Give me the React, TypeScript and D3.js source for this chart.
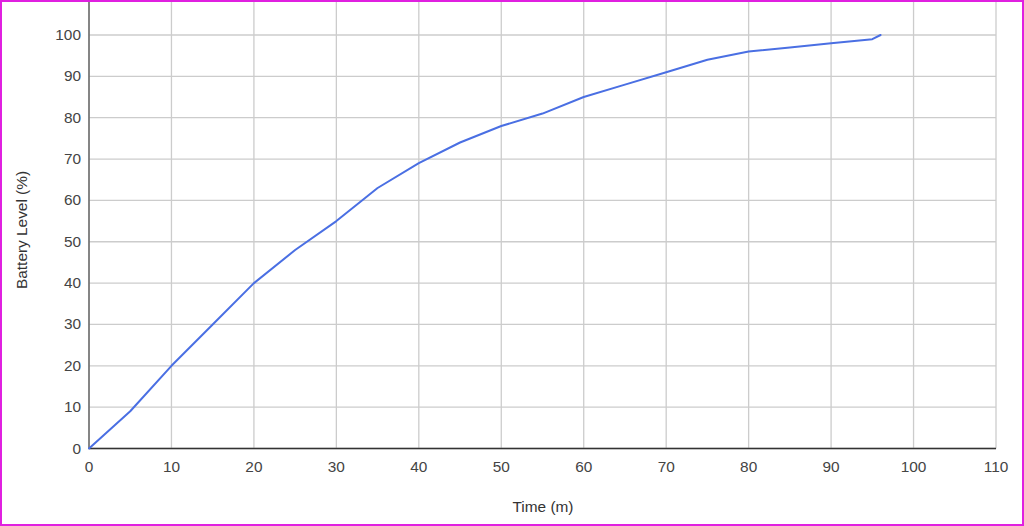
import React from "react";
import * as d3 from "d3";

const timeMinutes = [0, 5, 10, 15, 20, 25, 30, 35, 40, 45, 50, 55, 60, 65, 70, 75, 80, 85, 90, 95, 96];
const batteryLevel = [0, 9, 20, 30, 40, 48, 55, 63, 69, 74, 78, 81, 85, 88, 91, 94, 96, 97, 98, 99, 100];
const xTicks = [0, 10, 20, 30, 40, 50, 60, 70, 80, 90, 100, 110];
const yTicks = [0, 10, 20, 30, 40, 50, 60, 70, 80, 90, 100];
const xTitle = "Time (m)";
const yTitle = "Battery Level (%)";

const W = 1024;
const H = 526;
const SX = 1.1;

export default function App() {
  const x = d3.scaleLinear().domain([0, 110]).range([89, 996]);
  const y = d3.scaleLinear().domain([0, 100]).range([448.5, 35]);
  const top = 2;
  const pts = timeMinutes.map((t, i) => [t, batteryLevel[i]] as [number, number]);
  const line = d3
    .line<[number, number]>()
    .x((d) => x(d[0]))
    .y((d) => y(d[1]));
  const font = "'Liberation Sans', Arial, sans-serif";
  return (
    <svg
      width={W}
      height={H}
      style={{ position: "absolute", left: 0, top: 0, display: "block" }}
    >
      <rect x={0} y={0} width={W} height={H} fill="#fff" />
      {xTicks.map((t) => (
        <line key={"gx" + t} x1={x(t)} x2={x(t)} y1={top} y2={y(0)} stroke="#cccccc" strokeWidth={1.3} />
      ))}
      {yTicks.map((t) => (
        <line key={"gy" + t} x1={x(0)} x2={x(110)} y1={y(t)} y2={y(t)} stroke="#cccccc" strokeWidth={1.3} />
      ))}
      <line x1={x(0)} x2={x(0)} y1={top} y2={y(0)} stroke="#555" strokeWidth={1.3} />
      <line x1={x(0)} x2={x(110)} y1={y(0)} y2={y(0)} stroke="#333" strokeWidth={1.3} />
      {yTicks.map((t) => (
        <text
          key={"ly" + t}
          transform={`translate(81, ${y(t) + 5}) scale(${SX},1)`}
          textAnchor="end"
          fontFamily={font}
          fontSize={14}
          fill="#444"
        >
          {t}
        </text>
      ))}
      {xTicks.map((t) => (
        <text
          key={"lx" + t}
          transform={`translate(${x(t)}, 472) scale(${SX},1)`}
          textAnchor="middle"
          fontFamily={font}
          fontSize={14}
          fill="#444"
        >
          {t}
        </text>
      ))}
      <path d={line(pts) || ""} fill="none" stroke="#4a6fe3" strokeWidth={2} strokeLinejoin="round" strokeLinecap="round" />
      <text
        transform={`translate(543, 512) scale(${SX},1)`}
        textAnchor="middle"
        fontFamily={font}
        fontSize={14}
        fill="#333"
      >
        {xTitle}
      </text>
      <text
        transform={`translate(27, 230) rotate(-90) scale(${SX},1)`}
        textAnchor="middle"
        fontFamily={font}
        fontSize={14}
        fill="#333"
      >
        {yTitle}
      </text>
      <rect x={1} y={1} width={W - 2} height={H - 2} fill="none" stroke="#e020e0" strokeWidth={2} />
    </svg>
  );
}
